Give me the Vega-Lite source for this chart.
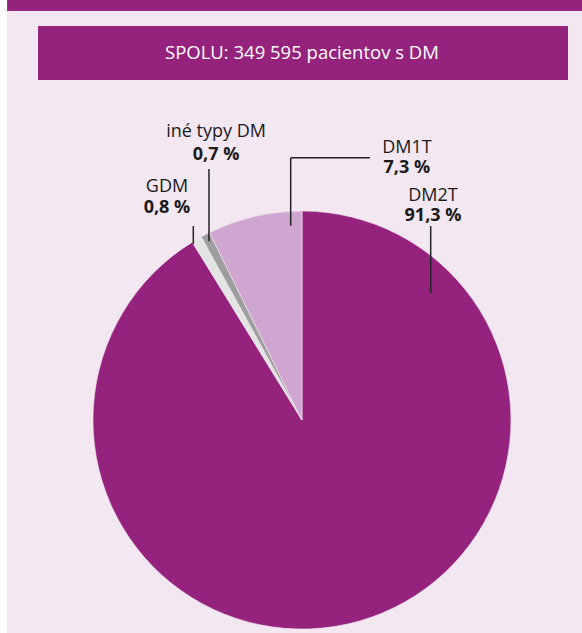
{
  "$schema": "https://vega.github.io/schema/vega-lite/v6.json",
  "width": 582,
  "height": 633,
  "padding": 0,
  "autosize": "none",
  "background": "#ffffff",
  "config": {"view": {"stroke": null}},
  "resolve": {"scale": {"color": "independent"}},
  "layer": [
    {
      "data": {"values": [
        {"part": "band", "x1": -1.411, "x2": 1.34, "y1": 2.01, "y2": 1.957},
        {"part": "panel", "x1": -1.411, "x2": 1.34, "y1": 1.957, "y2": -1.019},
        {"part": "box", "x1": -1.263, "x2": 1.273, "y1": 1.885, "y2": 1.627}
      ]},
      "mark": {"type": "rect"},
      "encoding": {
        "x": {"field": "x1", "type": "quantitative", "scale": {"domain": [-1.445, 1.34], "nice": false, "zero": false}, "axis": null},
        "x2": {"field": "x2"},
        "y": {"field": "y1", "type": "quantitative", "scale": {"domain": [-1.019, 2.01], "nice": false, "zero": false}, "axis": null},
        "y2": {"field": "y2"},
        "color": {"field": "part", "type": "nominal", "legend": null,
          "scale": {"domain": ["band", "panel", "box"], "range": ["#95237e", "#f3e7f1", "#95237e"]}}
      }
    },
    {
      "data": {"values": [{"label": "SPOLU: 349 595 pacientov s DM", "x": 0, "y": 1.756}]},
      "mark": {"type": "text", "font": "Open Sans", "fontSize": 18.5, "color": "#ffffff", "baseline": "middle", "align": "center"},
      "encoding": {
        "x": {"field": "x", "type": "quantitative"},
        "y": {"field": "y", "type": "quantitative"},
        "text": {"field": "label"}
      }
    },
    {
      "data": {"values": [
        {"type": "DM2T", "pct": 91.3, "ord": 1},
        {"type": "GDM", "pct": 0.8, "ord": 2},
        {"type": "iné typy DM", "pct": 0.7, "ord": 3},
        {"type": "DM1T", "pct": 7.3, "ord": 4}
      ]},
      "mark": {"type": "arc", "outerRadius": 209, "stroke": "#f3e7f1", "strokeWidth": 0.6},
      "encoding": {
        "x": {"datum": 0, "type": "quantitative"},
        "y": {"datum": 0, "type": "quantitative"},
        "theta": {"field": "pct", "type": "quantitative", "stack": true},
        "order": {"field": "ord", "type": "quantitative"},
        "color": {"field": "type", "type": "nominal", "legend": null,
          "scale": {"domain": ["DM2T", "GDM", "iné typy DM", "DM1T"], "range": ["#95237e", "#e4e4e4", "#9e9e9e", "#cfa6cf"]}}
      }
    },
    {
      "data": {"values": [
        {"line": "DM1T-h", "x1": -0.054, "x2": 0.325, "y1": 1.255, "y2": 1.255},
        {"line": "DM1T-v", "x1": -0.054, "x2": -0.054, "y1": 1.255, "y2": 0.93},
        {"line": "DM2T", "x1": 0.616, "x2": 0.616, "y1": 0.928, "y2": 0.608},
        {"line": "ine", "x1": -0.445, "x2": -0.445, "y1": 1.201, "y2": 0.856},
        {"line": "GDM", "x1": -0.52, "x2": -0.52, "y1": 0.928, "y2": 0.842}
      ]},
      "mark": {"type": "rule", "color": "#222222", "strokeWidth": 1.5},
      "encoding": {
        "x": {"field": "x1", "type": "quantitative"},
        "x2": {"field": "x2"},
        "y": {"field": "y1", "type": "quantitative"},
        "y2": {"field": "y2"}
      }
    },
    {
      "data": {"name": "labels", "values": [
        {"name": "iné typy DM", "pct": "0,7 %", "x": -0.411, "yn": 1.354, "yp": 1.244},
        {"name": "GDM", "pct": "0,8 %", "x": -0.646, "yn": 1.091, "yp": 0.99},
        {"name": "DM1T", "pct": "7,3 %", "x": 0.502, "yn": 1.278, "yp": 1.182},
        {"name": "DM2T", "pct": "91,3 %", "x": 0.627, "yn": 1.048, "yp": 0.952}
      ]},
      "layer": [
        {
          "mark": {"type": "text", "font": "Open Sans", "fontSize": 18, "color": "#1a1a1a", "baseline": "alphabetic", "align": "center"},
          "encoding": {
            "x": {"field": "x", "type": "quantitative"},
            "y": {"field": "yn", "type": "quantitative"},
            "text": {"field": "name"}
          }
        },
        {
          "mark": {"type": "text", "font": "Open Sans", "fontSize": 18, "fontWeight": "bold", "color": "#1a1a1a", "baseline": "alphabetic", "align": "center"},
          "encoding": {
            "x": {"field": "x", "type": "quantitative"},
            "y": {"field": "yp", "type": "quantitative"},
            "text": {"field": "pct"}
          }
        }
      ]
    }
  ]
}
